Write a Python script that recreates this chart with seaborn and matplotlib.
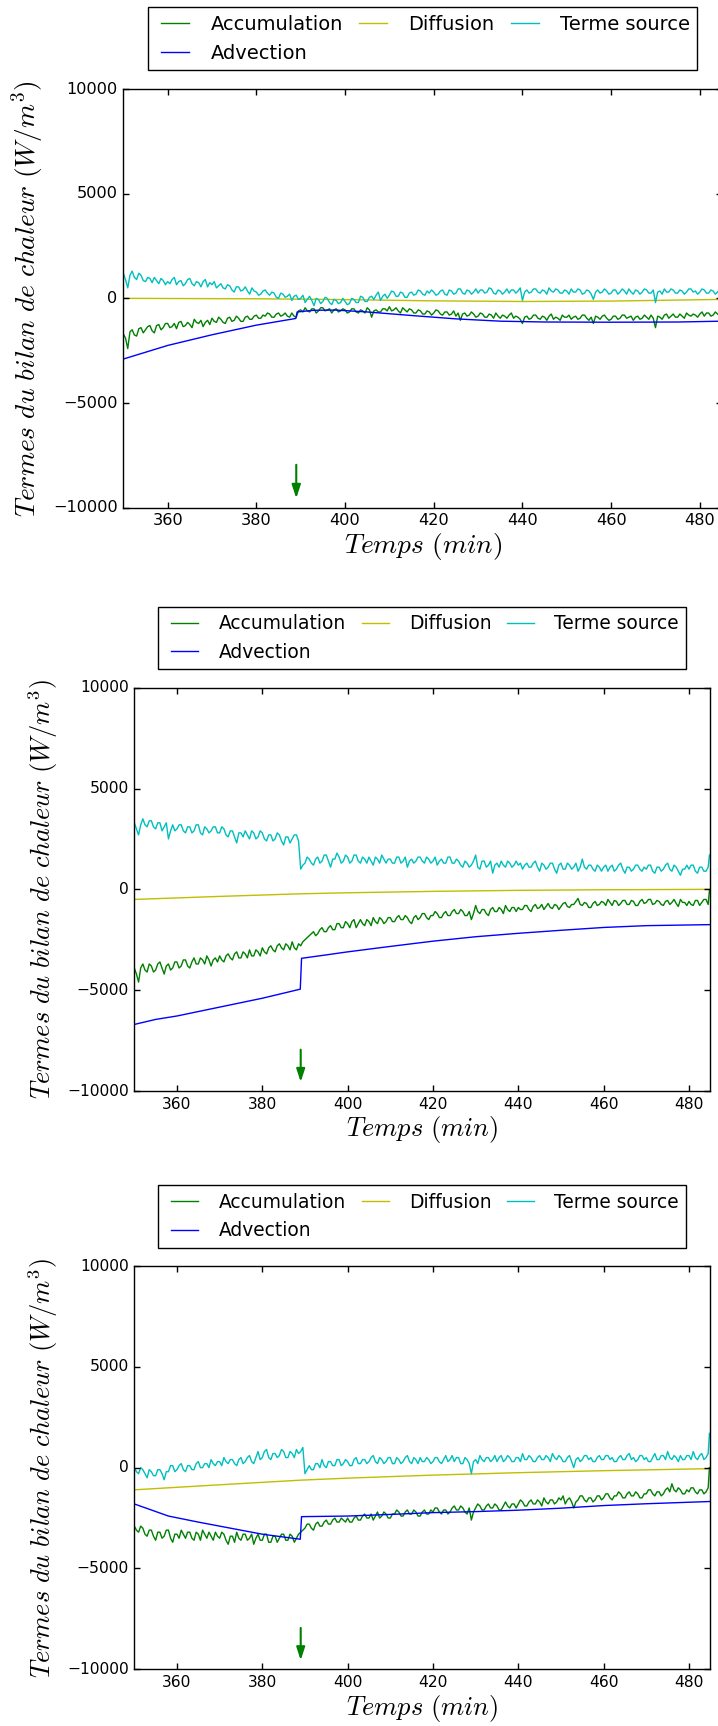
import matplotlib
matplotlib.use("Agg")
import matplotlib.pyplot as plt
import seaborn as sns
import numpy as np

# ---------------- data ----------------
TIME = list(np.arange(350, 485, 0.5)) + [484.8]   # noisy series time base (min)
EVENT_T = 389                                      # arrow position (min)

# Panel 1
P1_ACC = [-1700, -1900, -2400, -1600, -1500, -1750, -1800, -1450, -1400, -1650,
          -1500, -1350, -1300, -1550, -1650, -1300, -1250, -1500, -1400, -1200,
          -1200, -1400, -1350, -1200, -1450, -1150, -1100, -1350, -1300, -1150,
          -1250, -1400, -1000, -1150, -1200, -1050, -1350, -1150, -1050, -1250,
          -950, -1100, -1150, -900, -1000, -1150, -1200, -950, -900, -1100,
          -1050, -850, -950, -1100, -1100, -900, -850, -1000, -1000, -850,
          -800, -950, -950, -800, -850, -700, -750, -900, -900, -750,
          -700, -850, -800, -700, -850, -900, -700, -850, -900, -600,
          -550, -650, -450, -600, -650, -500, -500, -700, -600, -450,
          -450, -600, -550, -500, -700, -550, -500, -650, -600, -500,
          -550, -700, -650, -500, -500, -650, -700, -550, -600, -700,
          -450, -550, -900, -600, -550, -650, -650, -500, -500, -600,
          -400, -600, -550, -450, -600, -700, -450, -550, -650, -500,
          -550, -700, -700, -550, -600, -750, -750, -600, -650, -800,
          -700, -550, -600, -750, -800, -650, -650, -800, -750, -600,
          -850, -700, -1050, -750, -700, -850, -800, -650, -750, -900,
          -850, -700, -750, -900, -900, -750, -800, -950, -700, -850,
          -950, -800, -850, -950, -800, -700, -950, -850, -900, -1000,
          -1200, -900, -850, -1000, -950, -800, -800, -950, -1000, -850,
          -900, -1050, -850, -750, -1000, -900, -950, -1050, -800, -900,
          -900, -800, -1000, -900, -850, -1000, -950, -800, -800, -950,
          -1050, -900, -1200, -850, -900, -1000, -850, -800, -950, -1050,
          -1000, -850, -850, -1000, -950, -800, -800, -950, -900, -850,
          -1050, -900, -850, -1000, -950, -800, -900, -1000, -800, -950,
          -1400, -850, -900, -1000, -800, -750, -950, -850, -750, -900,
          -900, -750, -850, -950, -700, -800, -850, -750, -800, -900,
          -750, -650, -850, -700, -700, -850, -800, -650, -750, -850,
          -700]
P1_SRC = [1200, 900, 500, 1100, 1300, 1000, 900, 1200, 1100, 850,
          800, 1000, 950, 750, 1000, 850, 700, 950, 850, 650,
          800, 700, 900, 1000, 650, 800, 850, 600, 700, 900,
          950, 700, 600, 800, 750, 550, 800, 900, 550, 750,
          650, 800, 500, 600, 700, 500, 450, 650, 600, 400,
          300, 550, 550, 350, 400, 550, 350, 200, 500, 350,
          300, 150, 200, 350, 400, 250, 150, 300, 250, 50,
          0, 250, 200, 50, 100, 200, -100, 100, 150, -50,
          0, 150, -200, -50, 100, -100, -350, 0, -50, -250,
          -150, 50, 0, -200, -300, -50, -100, -250, -200, 0,
          -150, -300, -250, 0, -50, -200, -200, 100, 50, -150,
          -150, 50, 100, -50, 150, 300, -100, 100, 200, 0,
          150, 350, 300, 100, 100, 300, 250, 50, 50, 250,
          300, 150, 200, 400, 350, 200, 150, 350, 250, 400,
          300, 150, 200, 350, 400, 200, 150, 400, 350, 200,
          250, 450, 450, 250, 200, 400, 350, 200, 300, 450,
          250, 400, 400, 250, 300, 500, 450, 250, 200, 400,
          350, 200, 300, 450, 250, 400, 400, 250, 350, 500,
          -100, 300, 400, 250, 300, 450, 450, 300, 250, 400,
          350, 200, 500, 350, 300, 450, 400, 250, 250, 400,
          350, 200, 450, 300, 300, 450, 400, 200, 250, 400,
          350, 200, -50, 300, 400, 250, 300, 450, 350, 200,
          250, 400, 400, 200, 300, 450, 350, 200, 450, 300,
          200, 400, 350, 200, 300, 450, 400, 250, 250, 400,
          -200, 300, 350, 200, 450, 300, 300, 450, 400, 250,
          250, 400, 350, 200, 300, 450, 450, 300, 350, 200,
          300, 450, 400, 250, 250, 400, 350, 200, 300, 450,
          400]
P1_DIF_T = [350, 380, 400, 420, 440, 460, 485]
P1_DIF = [0, -20, -60, -120, -150, -130, -50]
P1_ADV_T = [350, 360, 370, 380, 388.9, 389.2, 393, 398, 405, 415, 425, 435, 445, 460, 475, 485]
P1_ADV = [-2900, -2250, -1740, -1280, -960, -650, -570, -560, -650, -820, -980, -1090, -1130, -1140, -1130, -1090]

# Panel 2
P2_ACC = [-3900, -4200, -4600, -3900, -3700, -4000, -4100, -3700, -3800, -4100,
          -4000, -3700, -3600, -3900, -4200, -3800, -3700, -4000, -3900, -3600,
          -3600, -3900, -3800, -3500, -3500, -3800, -3900, -3600, -3400, -3700,
          -3700, -3400, -3500, -3700, -3300, -3500, -3800, -3500, -3400, -3600,
          -3300, -3500, -3600, -3300, -3200, -3400, -3500, -3200, -3100, -3400,
          -3400, -3100, -3200, -3400, -3000, -3300, -3300, -3000, -3100, -3300,
          -2900, -3100, -3200, -2900, -2800, -3000, -3100, -2800, -2700, -2900,
          -3000, -2700, -2800, -3000, -2600, -2900, -3000, -2700, -2800, -2600,
          -2500, -2400, -2300, -2200, -2100, -2300, -2200, -2000, -1900, -2100,
          -2100, -1900, -1800, -2000, -2000, -1700, -1700, -1900, -1900, -1600,
          -1700, -1900, -1600, -1500, -1900, -1700, -1500, -1700, -1800, -1500,
          -1600, -1800, -1400, -1600, -1700, -1400, -1500, -1700, -1600, -1400,
          -1400, -1600, -1600, -1400, -1300, -1500, -1500, -1300, -1400, -1600,
          -1700, -1400, -1300, -1500, -1400, -1200, -1200, -1400, -1500, -1300,
          -1300, -1100, -1200, -1400, -1400, -1200, -1100, -1300, -1300, -1100,
          -1000, -1200, -1200, -1000, -1100, -1300, -1300, -1100, -1500, -1200,
          -800, -1100, -1200, -1000, -1000, -1200, -1300, -1000, -900, -1100,
          -1100, -900, -1000, -1200, -800, -1000, -1100, -900, -900, -1100,
          -900, -1000, -1000, -800, -800, -1000, -1100, -850, -750, -950,
          -900, -750, -1000, -850, -700, -900, -950, -750, -800, -1000,
          -850, -700, -650, -850, -900, -750, -750, -600, -450, -750,
          -800, -650, -700, -900, -900, -700, -600, -800, -750, -600,
          -650, -800, -500, -650, -800, -550, -600, -800, -700, -550,
          -550, -750, -750, -550, -600, -800, -800, -600, -500, -700,
          -650, -500, -500, -750, -700, -550, -600, -750, -800, -600,
          -550, -750, -650, -500, -700, -850, -500, -650, -650, -800,
          -600, -750, -800, -550, -550, -800, -650, -500, -500, -750,
          -50]
P2_SRC = [3300, 3000, 2700, 3200, 3500, 3200, 3100, 3400, 3400, 3100,
          3000, 3300, 3300, 2900, 3100, 3300, 2500, 2900, 3200, 2900,
          3000, 3200, 3200, 2900, 2800, 3100, 3100, 2800, 2900, 3200,
          3200, 2800, 2700, 3100, 3000, 2800, 2900, 3100, 3100, 2800,
          2800, 3100, 3000, 2700, 2600, 2900, 2900, 2600, 2300, 2800,
          2800, 2600, 2900, 2700, 2500, 2900, 2800, 2500, 2600, 2900,
          2800, 2500, 2400, 2700, 2700, 2400, 2500, 2800, 2700, 2400,
          2200, 2600, 2600, 2300, 2500, 2700, 2700, 2400, 1000, 1200,
          1300, 1600, 1500, 1300, 1200, 1500, 1600, 1300, 1400, 1700,
          1700, 1400, 1100, 1500, 1500, 1800, 1600, 1300, 1400, 1700,
          1600, 1300, 1400, 1700, 1700, 1400, 1300, 1600, 1500, 1300,
          1600, 1400, 1200, 1600, 1500, 1300, 1700, 1500, 1300, 1500,
          1500, 1300, 1300, 1600, 1600, 1300, 1400, 1600, 1100, 1400,
          1500, 1300, 1400, 1600, 1600, 1400, 1300, 1600, 1500, 1300,
          1400, 1600, 1200, 1400, 1500, 1300, 1300, 1600, 1600, 1300,
          1300, 1500, 1400, 1200, 1100, 1400, 1300, 1100, 1200, 1400,
          1700, 1100, 1000, 1400, 1400, 1100, 1200, 1400, 800, 1200,
          1300, 1100, 1400, 1200, 1100, 1400, 1300, 1100, 1200, 1400,
          1200, 1300, 1000, 1200, 1300, 1100, 1100, 1300, 1400, 1100,
          900, 1300, 1200, 1000, 1100, 1300, 1300, 1000, 800, 1200,
          1300, 1000, 1000, 1300, 1200, 1000, 1100, 1300, 900, 1100,
          1500, 1100, 1000, 1200, 1200, 1000, 900, 1200, 1100, 900,
          1100, 1200, 900, 1100, 1200, 900, 1000, 1200, 1300, 1000,
          800, 1100, 1100, 900, 1000, 1200, 1200, 1000, 900, 1100,
          1000, 1200, 1200, 900, 800, 1100, 1100, 900, 1000, 1200,
          1300, 1000, 900, 1200, 1100, 900, 700, 1000, 1000, 1200,
          1000, 1200, 1200, 900, 800, 1100, 1100, 900, 900, 1100,
          1700]
P2_DIF_T = [350, 370, 389, 400, 420, 440, 460, 484.8]
P2_DIF = [-500, -350, -220, -170, -100, -50, -20, 0]
P2_ADV_T = [350, 355, 360, 370, 380, 388.9, 389.2, 395, 400, 410, 420, 430, 440, 450, 460, 470, 484.8]
P2_ADV = [-6700, -6450, -6280, -5840, -5400, -4950, -3420, -3250, -3100, -2830, -2570, -2350,
          -2180, -2030, -1890, -1800, -1750]

# Panel 3
P3_ACC = [-2900, -3100, -3200, -2900, -3000, -3300, -3400, -3100, -3100, -3400,
          -3600, -3200, -3200, -3500, -3400, -3100, -3100, -3500, -3700, -3300,
          -3300, -3500, -3100, -3300, -3500, -3200, -3200, -3500, -3600, -3200,
          -3300, -3600, -3100, -3300, -3500, -3200, -3400, -3600, -3200, -3400,
          -3500, -3200, -3300, -3600, -3800, -3400, -3400, -3700, -3200, -3500,
          -3600, -3300, -3300, -3600, -3500, -3300, -3800, -3500, -3300, -3600,
          -3600, -3300, -3300, -3700, -3700, -3400, -3400, -3700, -3500, -3300,
          -3300, -3600, -3600, -3300, -3400, -3700, -3500, -3300, -3200, -3100,
          -3000, -2800, -2800, -3000, -3100, -2800, -2700, -2900, -2900, -2700,
          -2600, -2800, -2800, -2600, -2500, -2700, -2700, -2500, -2600, -2700,
          -2500, -2700, -2700, -2500, -2400, -2600, -2600, -2400, -2300, -2500,
          -2500, -2300, -2600, -2400, -2200, -2500, -2400, -2200, -2300, -2500,
          -2500, -2300, -2300, -2100, -2200, -2400, -2400, -2200, -2100, -2300,
          -2300, -2100, -2200, -2400, -2400, -2200, -2100, -2300, -2300, -2100,
          -2200, -2000, -2000, -2200, -2300, -2100, -2100, -2300, -2200, -2000,
          -1900, -2100, -2100, -1900, -2000, -2200, -2300, -2000, -2600, -2200,
          -2000, -1800, -1900, -2100, -2100, -1900, -1800, -2000, -2000, -1800,
          -1900, -2100, -2100, -1900, -1700, -1900, -2000, -1800, -1800, -2000,
          -1800, -1600, -1700, -1900, -1900, -1700, -1600, -1800, -1800, -1600,
          -1700, -1900, -1500, -1700, -1800, -1600, -1600, -1800, -1700, -1500,
          -1600, -1400, -1800, -1600, -1500, -1700, -2000, -1700, -1600, -1400,
          -1400, -1600, -1700, -1500, -1500, -1700, -1600, -1400, -1400, -1600,
          -1500, -1300, -1300, -1500, -1600, -1400, -1400, -1200, -1300, -1500,
          -1500, -1300, -1200, -1400, -1400, -1200, -1300, -1500, -1500, -1300,
          -1300, -1100, -1100, -1300, -1400, -1200, -1200, -1400, -1300, -1100,
          -1000, -1200, -800, -1100, -1200, -1000, -1100, -1300, -1300, -1100,
          -1200, -1000, -1000, -1200, -1300, -1100, -1100, -1300, -1200, -1000,
          0]
P3_SRC = [0, -200, -300, 0, -100, -300, -500, -100, -200, -400,
          -400, -100, -100, -300, -600, -200, -200, 100, 100, -200,
          -100, 100, 200, -100, -200, 100, 100, -100, -100, 200,
          300, 0, 0, 200, 200, 0, 400, 200, 100, 300,
          300, 100, 500, 300, 200, 400, 400, 200, 100, 400,
          500, 200, 300, 500, 600, 300, 200, 500, 800, 400,
          500, 800, 900, 500, 400, 700, 700, 500, 600, 900,
          800, 500, 500, 800, 700, 500, 900, 700, 800, 1000,
          -300, -100, 100, -100, -100, 200, 200, 0, 400, 100,
          0, 300, 300, 100, 100, 400, 400, 100, 200, 400,
          300, 100, 100, 400, 500, 200, 200, 400, 400, 200,
          300, 500, 600, 300, 200, 500, 400, 200, 300, 500,
          500, 200, 200, 500, 400, 200, 300, 500, 600, 300,
          200, 500, 400, 200, 500, 300, 300, 500, 400, 200,
          300, 500, 500, 300, 200, 400, 600, 300, 400, 600,
          300, 500, 500, 200, 200, 500, 400, 200, -300, 300,
          400, 200, 600, 400, 300, 500, 500, 300, 400, 600,
          300, 500, 600, 300, 400, 600, 500, 300, 300, 500,
          500, 300, 700, 400, 400, 600, 500, 300, 300, 500,
          600, 400, 400, 600, 500, 300, 700, 500, 400, 600,
          500, 300, 300, 500, 600, 300, 0, 400, 500, 300,
          400, 600, 600, 400, 500, 300, 300, 500, 600, 400,
          400, 600, 600, 400, 500, 300, 300, 500, 600, 400,
          400, 600, 700, 400, 500, 300, 400, 600, 600, 400,
          500, 300, 300, 500, 700, 400, 400, 600, 600, 400,
          800, 500, 400, 600, 500, 300, 600, 400, 400, 600,
          600, 400, 800, 500, 400, 600, 700, 400, 500, 700,
          1700]
P3_DIF_T = [350, 370, 389, 400, 420, 440, 460, 484.8]
P3_DIF = [-1100, -850, -620, -520, -370, -250, -150, -50]
P3_ADV_T = [350, 358, 365, 370, 380, 388.9, 389.2, 400, 410, 420, 430, 440, 450, 460, 470, 484.8]
P3_ADV = [-1800, -2400, -2700, -2900, -3300, -3550, -2430, -2400, -2320, -2230, -2180, -2110,
          -2010, -1880, -1790, -1680]

LABELS = ["Accumulation", "Advection", "Diffusion", "Terme source"]
COLORS = {"Accumulation": "g", "Advection": "b", "Diffusion": "y", "Terme source": "c"}
XTICKS = [360, 380, 400, 420, 440, 460, 480]
YTICKS = [-10000, -5000, 0, 5000, 10000]

# ---------------- style ----------------
plt.style.use("classic")
plt.rcParams["mathtext.fontset"] = "cm"
plt.rcParams["font.family"] = ["DejaVu Sans"]
plt.rcParams["axes.unicode_minus"] = True

W, H = 718, 1726
fig = plt.figure(figsize=(W / 100, H / 100), dpi=100, facecolor="white")


def px_axes(left, top, right, bottom):
    return fig.add_axes([left / W, 1 - bottom / H, (right - left) / W, (bottom - top) / H])


def draw(ax, acc, src, dif_t, dif, adv_t, adv, s):
    series = {
        "Accumulation": (TIME, acc),
        "Advection": (adv_t, adv),
        "Diffusion": (dif_t, dif),
        "Terme source": (TIME, src),
    }
    handles = {}
    for name in ["Accumulation", "Diffusion", "Terme source", "Advection"]:
        x, y = series[name]
        sns.lineplot(x=x, y=y, ax=ax, color=COLORS[name], lw=1.0, estimator=None,
                     sort=False, legend=False)
        handles[name] = ax.get_lines()[-1]
    ax.set_xlim(350, 485)
    ax.set_ylim(-10000, 10000)
    ax.set_xticks(XTICKS)
    ax.set_yticks(YTICKS)
    ax.tick_params(labelsize=11.2 * s, direction="in", top=True, right=True,
                   length=4 * s, width=1)
    ax.set_xlabel(r"$Temps\ (min)$", fontsize=19 * s, labelpad=2)
    ax.set_ylabel(r"$Termes\ du\ bilan\ de\ chaleur\ (W/m^3)$", fontsize=19 * s, labelpad=5)
    ax.annotate("", xy=(EVENT_T, -9550), xytext=(EVENT_T, -7950),
                arrowprops=dict(arrowstyle="-|>,head_width=0.18,head_length=0.55",
                                color="green", lw=1.5, mutation_scale=14 * s,
                                shrinkA=0, shrinkB=0))
    ax_h = ax.get_position().height * H
    leg = ax.legend([handles[n] for n in LABELS], LABELS, ncol=3, loc="lower center",
                    bbox_to_anchor=(0.5, 1 + 18.5 / ax_h), borderaxespad=0,
                    fontsize=13.4 * s, handlelength=2.05, handletextpad=0.78,
                    columnspacing=0.55, borderpad=0.4, labelspacing=0.5,
                    fancybox=False, frameon=True)
    leg.get_frame().set_edgecolor("black")
    leg.get_frame().set_linewidth(1.0)


ax1 = px_axes(123.3, 89.0, 722.0, 507.7)
draw(ax1, P1_ACC, P1_SRC, P1_DIF_T, P1_DIF, P1_ADV_T, P1_ADV, 1.04)

ax2 = px_axes(134.3, 687.7, 710.3, 1091.0)
draw(ax2, P2_ACC, P2_SRC, P2_DIF_T, P2_DIF, P2_ADV_T, P2_ADV, 1.0)

ax3 = px_axes(134.3, 1266.0, 710.3, 1669.3)
draw(ax3, P3_ACC, P3_SRC, P3_DIF_T, P3_DIF, P3_ADV_T, P3_ADV, 1.0)

fig.savefig("out.png", dpi=100, facecolor="white")
